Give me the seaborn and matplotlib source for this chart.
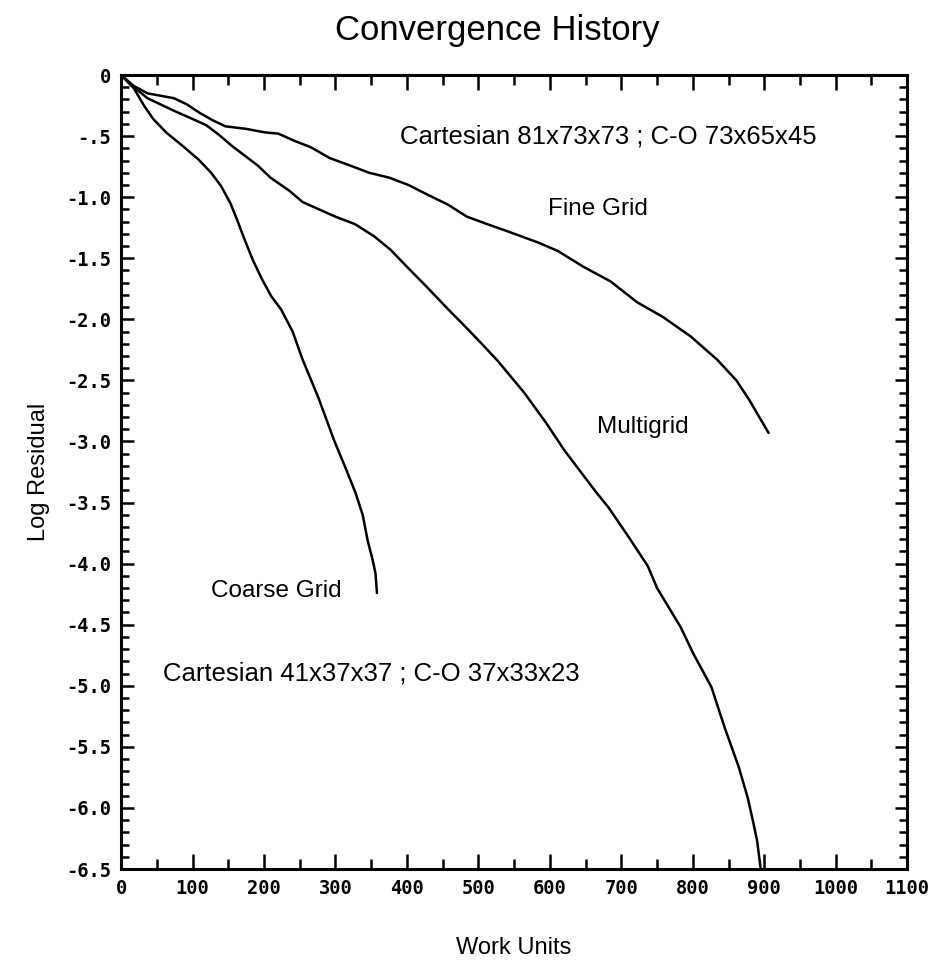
import numpy as np
import pandas as pd
import matplotlib
matplotlib.use("Agg")
import matplotlib.pyplot as plt
from matplotlib.ticker import MultipleLocator, FixedLocator
import seaborn as sns

# Residual history (log10) against work units for the three runs
coarse_work = [0, 18, 32, 45, 63, 86, 108, 126, 140, 153, 162, 171, 184, 197, 210, 224, 240, 254,
               276, 298, 315, 328, 338, 345, 352, 356, 358]
coarse_res = [0, -0.11, -0.25, -0.36, -0.47, -0.58, -0.69, -0.80, -0.91, -1.05, -1.18, -1.32,
              -1.51, -1.67, -1.81, -1.92, -2.10, -2.33, -2.64, -2.99, -3.23, -3.42, -3.60,
              -3.81, -3.97, -4.08, -4.24]

multi_work = [0, 18, 37, 73, 100, 119, 137, 155, 173, 191, 209, 236, 254, 277, 300, 327, 354,
              377, 400, 427, 458, 480, 503, 527, 564, 595, 620, 664, 682, 710, 737, 750, 783,
              801, 826, 845, 864, 877, 885, 890, 895]
multi_res = [0, -0.10, -0.19, -0.29, -0.36, -0.41, -0.49, -0.58, -0.66, -0.74, -0.84, -0.95,
             -1.04, -1.10, -1.16, -1.22, -1.32, -1.43, -1.57, -1.73, -1.92, -2.05, -2.19, -2.34,
             -2.60, -2.85, -3.07, -3.41, -3.54, -3.78, -4.02, -4.20, -4.52, -4.74, -5.01, -5.35,
             -5.66, -5.92, -6.13, -6.27, -6.50]

fine_work = [0, 18, 37, 74, 92, 110, 128, 146, 174, 202, 220, 243, 265, 292, 320, 347, 375, 402,
             429, 457, 484, 512, 541, 583, 611, 647, 685, 722, 758, 797, 834, 861, 879, 906]
fine_res = [0, -0.09, -0.15, -0.19, -0.24, -0.31, -0.37, -0.42, -0.44, -0.47, -0.48, -0.54,
            -0.59, -0.68, -0.74, -0.80, -0.84, -0.90, -0.98, -1.06, -1.16, -1.22, -1.28, -1.37,
            -1.44, -1.57, -1.69, -1.86, -1.98, -2.14, -2.33, -2.50, -2.66, -2.93]

x_ticks = list(range(0, 1101, 100))
y_ticks = [0, -0.5, -1.0, -1.5, -2.0, -2.5, -3.0, -3.5, -4.0, -4.5, -5.0, -5.5, -6.0, -6.5]
y_tick_labels = ["0", "-.5", "-1.0", "-1.5", "-2.0", "-2.5", "-3.0", "-3.5", "-4.0", "-4.5",
                 "-5.0", "-5.5", "-6.0", "-6.5"]

df = pd.concat([
    pd.DataFrame({"work": coarse_work, "res": coarse_res, "run": "Coarse Grid"}),
    pd.DataFrame({"work": multi_work, "res": multi_res, "run": "Multigrid"}),
    pd.DataFrame({"work": fine_work, "res": fine_res, "run": "Fine Grid"}),
])

sns.set_theme(style="ticks")
plt.rcParams["font.family"] = ["Liberation Sans", "DejaVu Sans"]

fig = plt.figure(figsize=(9.46, 9.63), dpi=100)
ax = fig.add_axes([0.128, 0.0976, 0.831, 0.8245])

sns.lineplot(data=df, x="work", y="res", units="run", estimator=None, sort=False,
             color="black", linewidth=1.8, ax=ax, legend=False)
for ln in ax.get_lines():
    ln.set_solid_joinstyle("round")
    ln.set_solid_capstyle("round")

ax.set_xlim(0, 1100)
ax.set_ylim(-6.5, 0)

ax.xaxis.set_major_locator(FixedLocator(x_ticks))
ax.xaxis.set_minor_locator(MultipleLocator(50))
ax.yaxis.set_major_locator(FixedLocator(y_ticks))
ax.yaxis.set_minor_locator(MultipleLocator(0.1))
ax.set_xticklabels([str(v) for v in x_ticks])
ax.set_yticklabels(y_tick_labels)

ax.tick_params(which="both", direction="in", top=True, right=True, color="black",
               width=1.8)
ax.tick_params(axis="x", which="major", length=11, pad=7)
ax.tick_params(axis="x", which="minor", length=7)
ax.tick_params(axis="y", which="major", length=9, pad=7)
ax.tick_params(axis="y", which="minor", length=5.8)
for lab in ax.get_xticklabels() + ax.get_yticklabels():
    lab.set_fontfamily("DejaVu Sans Mono")
    lab.set_fontweight("bold")
    lab.set_fontsize(13.5)
    lab.set_color("black")

for sp in ax.spines.values():
    sp.set_linewidth(2.2)
    sp.set_color("black")

ax.set_xlabel("Work Units", fontsize=17, labelpad=28, color="black")
ax.set_ylabel("Log Residual", fontsize=17, labelpad=12, color="black")
fig.text(0.526, 0.968, "Convergence History", ha="center", va="center", fontsize=25,
         color="black")

lab_kw = dict(fontsize=17.5, color="black", va="center")
grid_kw = dict(fontsize=18.5, color="black", va="center")
ax.text(390, -0.50, "Cartesian 81x73x73 ; C-O 73x65x45", ha="left", **grid_kw)
ax.text(598, -1.10, "Fine Grid", ha="left", **lab_kw)
ax.text(666, -2.88, "Multigrid", ha="left", **lab_kw)
ax.text(308, -4.22, "Coarse Grid", ha="right", **lab_kw)
ax.text(58, -4.90, "Cartesian 41x37x37 ; C-O 37x33x23", ha="left", **grid_kw)

fig.savefig("out.png", dpi=100, facecolor="white")
